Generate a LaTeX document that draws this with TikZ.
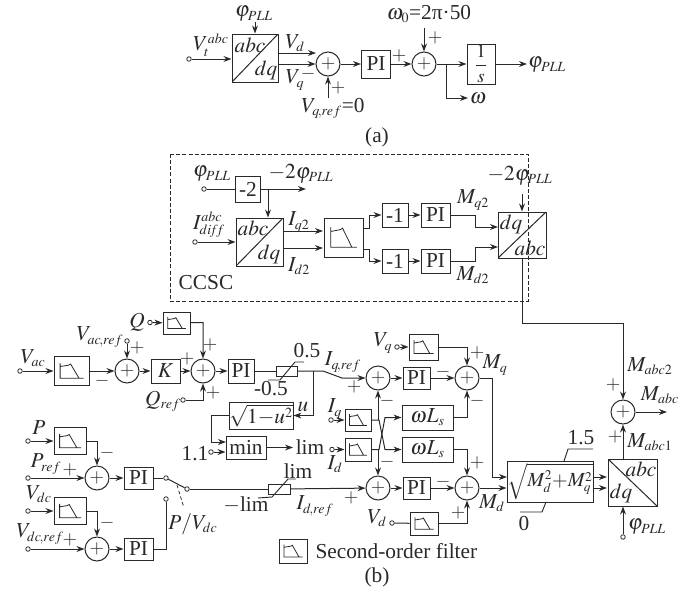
\documentclass[tikz,border=0pt]{standalone}
\usepackage{mathptmx}
\usepackage[no-math]{fontspec}
\setmainfont{Liberation Serif}
\usetikzlibrary{arrows.meta}
\DeclareMathSizes{16}{16}{10.5}{8}
\DeclareMathSizes{15}{15}{10}{8}
\DeclareMathSizes{14}{14}{10}{8}
\definecolor{ink}{gray}{0.16}
\tikzset{
  every node/.style={font=\fontsize{16}{18}\selectfont,inner sep=0pt,text=ink},
  bx/.style 2 args={draw=ink,rectangle,minimum width=#1*0.75pt,minimum height=#2*0.75pt},
  filt/.style 2 args={bx={#1}{#2},path picture={
    \draw[ink,line width=0.6pt,shift={(path picture bounding box.center)},x={#1*0.375pt},y={#2*0.375pt}]
      (-.65,.53) -- (-.65,-.5) -- (.69,-.5) (-.65,.31) -- (-.17,.4) -- (-.05,.48) -- (.43,-.5);}},
  tfup/.style 2 args={bx={#1}{#2},path picture={\draw[ink] (path picture bounding box.south west) -- (path picture bounding box.north east);}},
  tfdn/.style 2 args={bx={#1}{#2},path picture={\draw[ink] (path picture bounding box.north west) -- (path picture bounding box.south east);}},
  sumn/.style={draw=ink,circle,minimum size=18pt,font=\fontsize{14}{16}\selectfont},
  term/.style={draw=ink,circle,fill=white,minimum size=3.4pt,line width=0.6pt},
  arr/.style={-{Stealth[length=6pt,width=4.4pt]}},
  sgn/.style={font=\fontsize{14}{16}\selectfont},
}
\begin{document}
\begin{tikzpicture}[x=0.75pt,y=-0.75pt,draw=ink,line width=0.75pt]
\useasboundingbox (0,0) rectangle (699,593);
% (a)
\node[term] (inA) at (189,59) {};
\node[tfup={46}{48}] (tfA) at (255,58) {};
\node (tfAu) at (250,45) {$abc$};
\node (tfAd) at (266,70) {$dq$};
\node[sumn] (sumA) at (328,64) {$+$};
\node[bx={29}{28}] (piA) at (376,64) {PI};
\node[sumn] (sumB) at (424,64) {$+$};
\node[bx={28}{40},font=\fontsize{14}{16}\selectfont] (intA) at (481,64) {$\displaystyle\frac{1}{s}$};
\coordinate (tA) at (255,22);
\coordinate (eVd) at (316,53);
\coordinate (bA) at (328,98);
\coordinate (tB) at (424,28);
\coordinate (jA) at (446,64);
\coordinate (eW) at (468,98);
\coordinate (eP) at (527,64);
\draw[arr] (inA) -- (inA -| tfA.west);
\draw[arr] (tA) -- (tfA.north);
\draw[arr] (tfA.east |- eVd) -- (eVd);
\draw[arr] (tfA.east |- sumA) -- (sumA.west);
\draw[arr] (bA) -- (sumA.south);
\draw[arr] (sumA) -- (piA);
\draw[arr] (piA) -- (sumB);
\draw[arr] (tB) -- (sumB.north);
\draw[arr] (sumB) -- (intA);
\draw[arr] (jA) |- (eW);
\draw[arr] (intA) -- (eP);
\node (lPa) at (254,14) {$\varphi_{PLL}$};
\node (lVt) at (211,45) {$V_t^{abc}$};
\node (lVd) at (295,43) {$V_d$};
\node (lVq) at (295,80) {$V_q$};
\node (lVr) at (333,108) {$V_{q\!,ref}$=0};
\node (lOm0) at (429,14) {$\omega_0$=2π·50};
\node (lOm) at (478,98) {$\omega$};
\node (lPo) at (547,65) {$\varphi_{PLL}$};
\node (capA) at (377,137) {(a)};
% CCSC
\draw[dash pattern=on 3pt off 1.6pt,line width=0.7pt] (170,154) rectangle (528,301);
\node (lCc) at (206,283) {CCSC};
\node[term] (inP) at (204,189) {};
\node[bx={25}{26}] (mTwo) at (248,189) {-2};
\node[tfup={47}{48}] (tfD) at (259.5,242) {};
\node (tfDu) at (253,228) {$abc$};
\node (tfDd) at (269,254) {$dq$};
\node[term] (inI) at (195,242) {};
\node[filt={39}{39}] (fD) at (343.5,237.5) {};
\node[bx={26}{24}] (mA) at (395,215) {-1};
\node[bx={26}{24}] (mB) at (395,261) {-1};
\node[bx={29}{24}] (piQ2) at (435.5,215) {PI};
\node[bx={29}{24}] (piD2) at (435.5,261) {PI};
\node[tfup={48}{46}] (tfE) at (522,235) {};
\node (tfEu) at (511,224) {$dq$};
\node (tfEd) at (530,248) {$abc$};
\coordinate (jP) at (268,189);
\coordinate (eP2) at (306,189);
\coordinate (cIq) at (323,231);
\coordinate (cId) at (323,248);
\coordinate (kQa) at (369,228);
\coordinate (kDa) at (369,249);
\coordinate (cEq) at (498,227);
\coordinate (cEd) at (498,247);
\coordinate (kEq) at (475,215);
\coordinate (kEd) at (475,261);
\coordinate (tE) at (522,194);
\coordinate (kG) at (623,323);
\draw (inP) -- (mTwo);
\draw[arr] (mTwo) -- (eP2);
\draw[arr] (jP) -- (jP |- tfD.north);
\draw[arr] (inI) -- (inI -| tfD.west);
\draw[arr] (tfD.east |- cIq) -- (cIq);
\draw[arr] (tfD.east |- cId) -- (cId);
\draw[arr] (fD.east |- kQa) -- (kQa) |- (mA.west);
\draw[arr] (fD.east |- kDa) -- (kDa) |- (mB.west);
\draw[arr] (mA) -- (piQ2);
\draw[arr] (mB) -- (piD2);
\draw[arr] (piQ2) -- (kEq) |- (cEq);
\draw[arr] (piD2) -- (kEd) |- (cEd);
\draw[arr] (tE) -- (tfE.north);
\node (lPi) at (212,174) {$\varphi_{PLL}$};
\node (lMp) at (301,174) {$-2\varphi_{PLL}$};
\node (lMe) at (520,176) {$-2\varphi_{PLL}$};
\node (lIa) at (209,225) {$I_{di\!f\!f}^{abc}$};
\node (lIq) at (299,222) {$I_{q2}$};
\node (lId) at (299,266) {$I_{d2}$};
\node (lMq) at (473,200) {$M_{q2}$};
\node (lMd) at (473,275) {$M_{d2}$};
% (b) reactive path
\node[term] (inV) at (20,371) {};
\node[filt={35}{29}] (fV) at (71.5,371) {};
\node[sumn] (sumH) at (127,371) {$+$};
\node[term] (inR) at (127,341) {};
\node[bx={29}{24}] (gK) at (165.5,371) {$K$};
\node[sumn] (sumJ) at (203,371) {$+$};
\node[term] (inQ) at (150,322.5) {};
\node[filt={27}{22}] (fQ) at (176.5,323) {};
\node[term] (inQr) at (183,400) {};
\node[bx={26}{24}] (piJ) at (241,371) {PI};
\node[bx={21}{10}] (lmQ) at (286.5,371) {};
\node[bx={64}{27}] (sqU) at (261,415.5) {$\sqrt{1{-}u^2}$};
\node[bx={40}{23}] (minB) at (246,447.5) {min};
\node[term] (inM) at (211,452) {};
\node[sumn] (sumC) at (378,378) {$+$};
\node[bx={27}{22}] (piC) at (416.5,378) {PI};
\node[sumn] (sumE) at (467,378) {$+$};
\node[term] (inVq) at (397,347) {};
\node[filt={29}{26}] (fVq) at (423.5,347) {};
\node[term] (inIq) at (331,420) {};
\node[filt={26}{22}] (fIq) at (358,420) {};
\node[term] (inId) at (332,449.5) {};
\node[filt={26}{23}] (fId) at (358,449.5) {};
\node[bx={51}{25}] (wU) at (427.5,417.5) {$\omega L_s$};
\node[bx={51}{25}] (wL) at (427.5,449.5) {$\omega L_s$};
% (b) active path
\node[term] (inPw) at (28,441) {};
\node[filt={32}{27}] (fP) at (70,441) {};
\node[sumn] (sumK) at (97,478) {$+$};
\node[term] (inPr) at (28,478) {};
\node[bx={29}{22}] (piK) at (138.5,478) {PI};
\node[term] (inVd) at (28,511) {};
\node[filt={32}{27}] (fDc) at (70,511) {};
\node[sumn] (sumL) at (97,549) {$+$};
\node[term] (inVr) at (28,549) {};
\node[bx={29}{22}] (piL) at (138.5,549) {PI};
\node[term] (swA) at (166,478) {};
\node[term] (swB) at (187,489) {};
\node[term] (swC) at (166,499) {};
\node[bx={22}{10}] (lmD) at (279,489) {};
\node[sumn] (sumD) at (378,488) {$+$};
\node[bx={27}{22}] (piD) at (416.5,488) {PI};
\node[sumn] (sumF) at (467,488) {$+$};
\node[term] (inVdq) at (392,523) {};
\node[filt={28}{23}] (fVdq) at (424,523.5) {};
\node[bx={86}{41},font=\fontsize{15}{16}\selectfont] (sqB) at (550,481.5) {$\sqrt{M_d^2{+}M_q^2}$};
\node[tfdn={49}{47}] (tfC) at (632.5,482.5) {};
\node (tfCu) at (641,469) {$abc$};
\node (tfCd) at (621,493) {$dq$};
\node[sumn] (sumG) at (623,412) {$+$};
\node[term] (inPh) at (623,537) {};
\node[filt={28}{24}] (fLg) at (293,551) {};
\coordinate (kJ) at (203,322.5);
\coordinate (kQr) at (203,400);
\coordinate (kRa) at (323,371);
\coordinate (kRb) at (342,378);
\coordinate (jU) at (313,371);
\coordinate (kSq) at (211,415.5);
\coordinate (cMin) at (226,442);
\coordinate (eLim) at (293,447.5);
\coordinate (kP) at (97,441);
\coordinate (kDc) at (97,511);
\coordinate (jQ) at (378,420);
\coordinate (jD) at (378,449.5);
\coordinate (xQa) at (379,420);
\coordinate (xQb) at (385,449.5);
\coordinate (xDa) at (379,449.5);
\coordinate (xDb) at (385,417.5);
\coordinate (kMq) at (492,378);
\coordinate (cSq) at (507,477);
\coordinate (cTa) at (607,477);
\coordinate (cTb) at (607,488);
\coordinate (eMa) at (667,412);
\draw[arr] (inV) -- (fV);
\draw[arr] (fV) -- (sumH);
\draw[arr] (inR) -- (sumH);
\draw[arr] (sumH) -- (gK);
\draw[arr] (gK) -- (sumJ);
\draw[arr] (inQ) -- (fQ);
\draw[arr] (fQ) -- (kJ) -- (sumJ.north);
\draw[arr] (inQr) -- (kQr) -- (sumJ.south);
\draw[arr] (sumJ) -- (piJ);
\draw (piJ) -- (lmQ);
\draw[arr] (lmQ) -- (kRa) -- (kRb) -- (sumC.west);
\draw[arr] (jU) |- (sqU.east);
\draw[arr] (sqU.west) -- (kSq) |- (cMin);
\draw[arr] (inM) -- (inM -| minB.west);
\draw[arr] (minB) -- (eLim);
\draw[arr] (sumC) -- (piC);
\draw[arr] (piC) -- (sumE);
\draw[arr] (inVq) -- (fVq);
\draw[arr] (fVq.east) -| (sumE.north);
\draw[arr] (inIq) -- (fIq);
\draw[arr] (inId) -- (fId);
\draw[arr] (jQ) -- (sumC.south);
\draw[arr] (jD) -- (sumD.north);
\draw[arr] (fIq.east) -- (xQa) -- (xQb) -- (wL.west);
\draw[arr] (fId.east) -- (xDa) -- (xDb) -- (wU.west);
\draw[arr] (wU.east) -| (sumE.south);
\draw[arr] (wL.east) -| (sumF.north);
\draw[arr] (sumE) -- (kMq) |- (cSq);
\draw[arr] (inPw) -- (fP);
\draw[arr] (fP) -- (kP) -- (sumK.north);
\draw[arr] (inPr) -- (sumK);
\draw[arr] (sumK) -- (piK);
\draw[arr] (inVd) -- (fDc);
\draw[arr] (fDc) -- (kDc) -- (sumL.north);
\draw[arr] (inVr) -- (sumL);
\draw[arr] (sumL) -- (piL);
\draw (piK) -- (swA);
\draw (swA) -- (swB);
\draw (swB) -- (lmD);
\draw (piL.east) -| (swC);
\draw[arr] (lmD) -- (sumD);
\draw[arr] (sumD) -- (piD);
\draw[arr] (piD) -- (sumF);
\draw (inVdq) -- (fVdq);
\draw[arr] (fVdq.east) -| (sumF.south);
\draw[arr] (sumF) -- (sumF -| sqB.west);
\draw[arr] (sqB.east |- cTa) -- (cTa);
\draw[arr] (sqB.east |- cTb) -- (cTb);
\draw[arr] (tfC.north -| sumG) -- (sumG.south);
\draw[arr] (inPh) -- (inPh |- tfC.south);
\draw[arr] (tfE.south) |- (kG) -- (sumG.north);
\draw[arr] (sumG) -- (eMa);
% limiter strokes and switch
\draw[line width=0.7pt] (268,380) -- (280,380) -- (295,362) -- (304,362);
\draw[line width=0.7pt] (258,498) -- (272,497) -- (288,479) -- (296,479);
\draw[line width=0.7pt] (564,461) -- (568,449) -- (593,449);
\draw[line width=0.7pt] (546,502) -- (542,512) -- (520,512);
\draw[dash pattern=on 2.5pt off 2pt,line width=0.6pt] (177,485) -- (184,508);
% labels
\node (lVac) at (33,358) {$V_{ac}$};
\node (lVacr) at (100,337) {$V_{ac\!,ref}$};
\node (lQ) at (137,322) {$Q$};
\node (lQr) at (163,401) {$Q_{ref}$};
\node (l05) at (307,351) {0.5};
\node (lm05) at (271,389) {-0.5};
\node (lIqr) at (343,362) {$I_{q\!,ref}$};
\node (lu) at (303,407) {$u$};
\node (l11) at (195,454) {1.1};
\node (lLim) at (310,447.5) {lim};
\node (lP) at (39,428) {$P$};
\node (lPr) at (46,464) {$P_{ref}$};
\node (lVdc) at (39,494) {$V_{dc}$};
\node (lVdr) at (40,534) {$V_{dc\!,ref}$};
\node (lSw) at (193,524) {$P/V_{dc}$};
\node (lLt) at (298,471) {lim};
\node (lLb) at (246,505) {$-$lim};
\node (lIdr) at (315,506) {$I_{d\!,ref}$};
\node (lVq2) at (383,343) {$V_q$};
\node (lIq2) at (335,409) {$I_q$};
\node (lId2) at (335,464) {$I_d$};
\node (lVd2) at (377,518) {$V_d$};
\node (lMqb) at (495,365) {$M_q$};
\node (lMdb) at (492,503) {$M_d$};
\node (l15) at (581,438) {1.5};
\node (l0) at (524,524) {0};
\node (lMa2) at (650,366) {$M_{abc2}$};
\node (lMa1) at (650,442) {$M_{abc1}$};
\node (lMa) at (660,395) {$M_{abc}$};
\node (lPb) at (647,527) {$\varphi_{PLL}$};
\node[anchor=west] (lLg) at (315,551) {Second-order filter};
\node (capB) at (377,577) {(b)};
\foreach \x/\y [count=\i] in {338/88,399/56,435/38,137/348,187/359,210/345,213/393,477/353,354/387,70/470,70/540,351/498,477/463,458/513,613/385,615/437}
  {\node[sgn] (plus\i) at (\x,\y) {$+$};}
\foreach \x/\y [count=\i] in {308/74,102/381,107/453,107/523,443/372,387/401,477/401,387/462,443/482}
  {\node[sgn] (minus\i) at (\x,\y) {$-$};}
\end{tikzpicture}
\end{document}
